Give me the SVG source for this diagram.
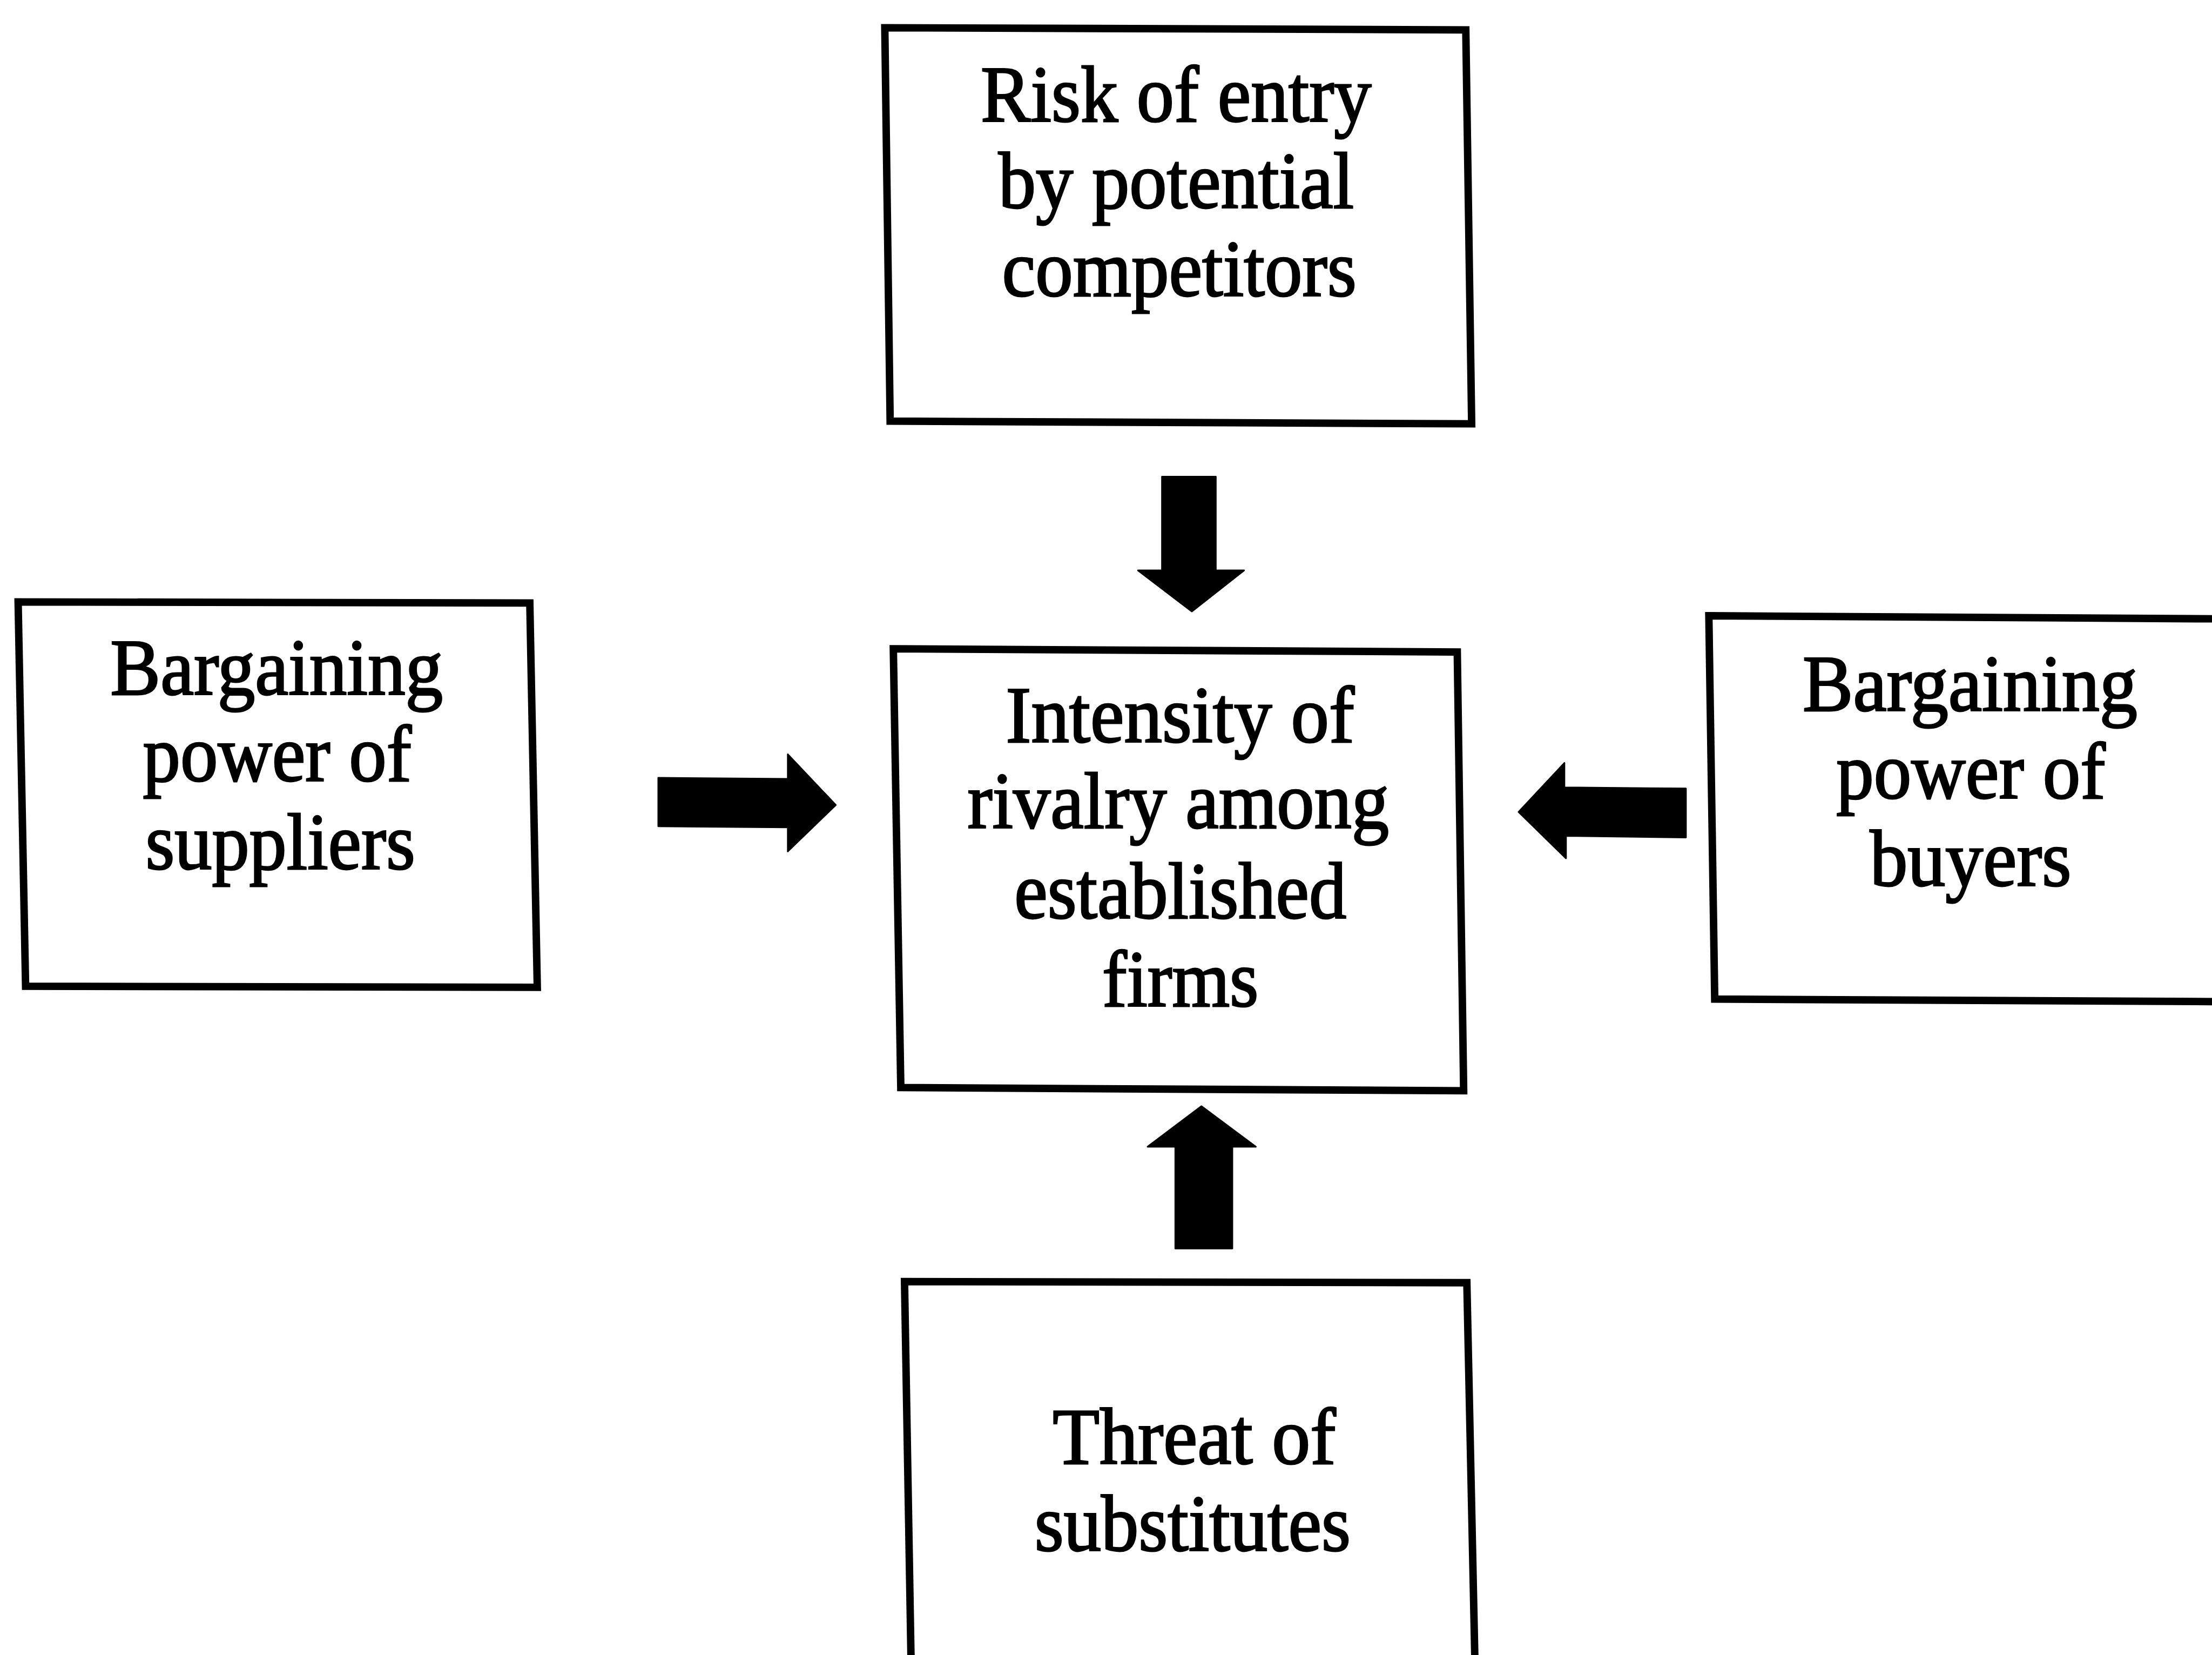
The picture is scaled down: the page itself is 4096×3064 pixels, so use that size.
<svg xmlns="http://www.w3.org/2000/svg" width="4096" height="3064" viewBox="0 0 4096 3064">
  <style>
    .box { fill: #ffffff; stroke: #000000; stroke-width: 14; stroke-linejoin: miter; }
    .arrow { fill: #000000; stroke: #000000; stroke-width: 3; stroke-linejoin: round; }
    .label { font-family: "Liberation Serif", "Times New Roman", serif; font-size: 150px; fill: #000000; stroke: #000000; stroke-width: 3; }
  </style>
  <rect x="0" y="0" width="4096" height="3064" fill="#ffffff"/>
  <!-- layout is authored on a 4149 x 3104 grid and scaled into the canvas -->
  <g transform="scale(0.987)">
    <g id="connectors">
      <!-- entry threat pushing down into the rivalry box -->
      <polygon class="arrow" points="2180,894 2281,894 2281,1070 2334,1070 2236,1147 2135,1070 2180,1070"/>
      <!-- suppliers pushing right -->
      <polygon class="arrow" points="1235,1459 1478,1461 1478,1415 1568,1510 1478,1597 1478,1552 1235,1550"/>
      <!-- buyers pushing left -->
      <polygon class="arrow" points="2849,1523 2935,1431 2935,1477 3163,1479 3163,1571 2938,1568 2938,1610"/>
      <!-- substitutes pushing up -->
      <polygon class="arrow" points="2254,2075 2356,2151 2312,2151 2312,2342 2205,2342 2205,2151 2153,2151"/>
    </g>

    <g id="node-entry">
      <path class="box" d="M1660,52 L2750,56 L2761,795 L1670,790 Z"/>
      <text class="label" x="1840" y="228" textLength="733" lengthAdjust="spacingAndGlyphs">Risk of entry</text>
      <text class="label" x="1873" y="390" textLength="667" lengthAdjust="spacingAndGlyphs">by potential</text>
      <text class="label" x="1880" y="555" textLength="665" lengthAdjust="spacingAndGlyphs">competitors</text>
    </g>

    <g id="node-suppliers">
      <path class="box" d="M34,1129 L994,1131 L1008,1852 L48,1850 Z"/>
      <text class="label" x="207" y="1303" textLength="624" lengthAdjust="spacingAndGlyphs">Bargaining</text>
      <text class="label" x="268" y="1465" textLength="504" lengthAdjust="spacingAndGlyphs">power of</text>
      <text class="label" x="273" y="1630" textLength="506" lengthAdjust="spacingAndGlyphs">suppliers</text>
    </g>

    <g id="node-rivalry">
      <path class="box" d="M1676,1217 L2734,1223 L2746,2046 L1690,2040 Z"/>
      <text class="label" x="1887" y="1392" textLength="654" lengthAdjust="spacingAndGlyphs">Intensity of</text>
      <text class="label" x="1815" y="1553" textLength="791" lengthAdjust="spacingAndGlyphs">rivalry among</text>
      <text class="label" x="1903" y="1722" textLength="623" lengthAdjust="spacingAndGlyphs">established</text>
      <text class="label" x="2068" y="1888" textLength="293" lengthAdjust="spacingAndGlyphs">firms</text>
    </g>

    <g id="node-buyers">
      <path class="box" d="M3206,1155 L4190,1161 L4190,1879 L3217,1874 Z"/>
      <text class="label" x="3382" y="1333" textLength="628" lengthAdjust="spacingAndGlyphs">Bargaining</text>
      <text class="label" x="3445" y="1497" textLength="505" lengthAdjust="spacingAndGlyphs">power of</text>
      <text class="label" x="3508" y="1662" textLength="378" lengthAdjust="spacingAndGlyphs">buyers</text>
    </g>

    <g id="node-substitutes">
      <path class="box" d="M1710,3160 L1697,2404 L2752,2406 L2768,3160"/>
      <text class="label" x="1975" y="2746" textLength="531" lengthAdjust="spacingAndGlyphs">Threat of</text>
      <text class="label" x="1941" y="2909" textLength="593" lengthAdjust="spacingAndGlyphs">substitutes</text>
    </g>
  </g>
</svg>
